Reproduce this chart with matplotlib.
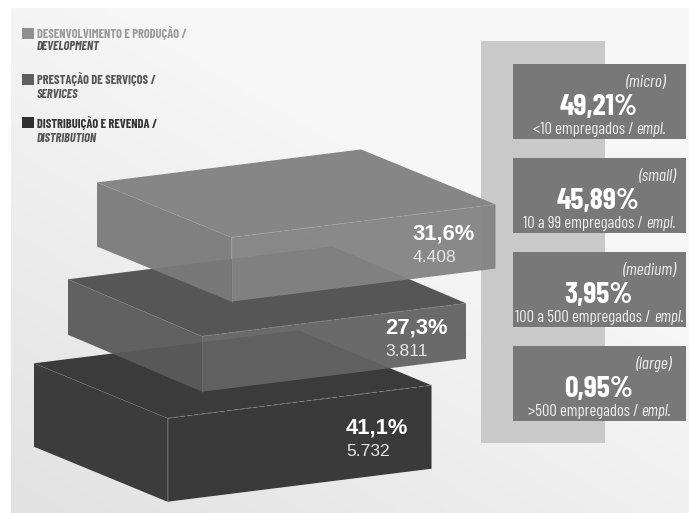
import numpy as np
import matplotlib
matplotlib.use("Agg")
import matplotlib.pyplot as plt
from matplotlib.patches import Polygon, Rectangle
from matplotlib.colors import LinearSegmentedColormap

# Sector shares of companies and the number of companies behind them
sector_names = ["DESENVOLVIMENTO E PRODUÇÃO /", "PRESTAÇÃO DE SERVIÇOS /", "DISTRIBUIÇÃO E REVENDA /"]
sector_names_en = ["DEVELOPMENT", "SERVICES", "DISTRIBUTION"]
sector_shares = [31.6, 27.3, 41.1]
sector_counts = [4408, 3811, 5732]

# Company size breakdown
size_names = ["(micro)", "(small)", "(medium)", "(large)"]
size_shares = [49.21, 45.89, 3.95, 0.95]
size_ranges = ["<10 empregados / ", "10 a 99 empregados / ", "100 a 500 empregados / ", ">500 empregados / "]

W, H = 689, 513
NARROW = ["Barlow Condensed", "DejaVu Sans"]
SANS = ["Liberation Sans", "DejaVu Sans"]

fig = plt.figure(figsize=(W / 100, H / 100), dpi=100, facecolor="white")
ax = fig.add_axes([0, 0, 1, 1])
ax.axis("off")

# Page background: pale grey, a little darker towards the lower left
shade = LinearSegmentedColormap.from_list("page", ["#e2e2e2", "#f6f6f6"])
gx, gy = np.meshgrid(np.linspace(0, 1, 64), np.linspace(0, 1, 64))
ax.imshow(np.clip(gx * 0.7 + (1 - gy) * 0.9, 0, 1), cmap=shade, vmin=0, vmax=1,
          extent=(11, W, 513, 8), aspect="auto", zorder=0, interpolation="bilinear")
ax.set_xlim(0, W)
ax.set_ylim(H, 0)

# Tall panel behind the size boxes
ax.add_patch(Rectangle((481, 41), 124, 402, fc="#c9c9c9", ec="none", zorder=1))

# Stacked slabs: the height of each slab follows its share
px_per_point = 2.03
slab_front_x = [231.5, 202, 167.5]
slab_front_mid = [269.5, 364, 460]
slab_left = [(-134.5, -55), (-134, -57), (-133.5, -55)]
slab_right = (264, -33)
slab_colours = [("#868686", "#7a7a7a", "#838383"),
                ("#565656", "#5a5a5a", "#636363"),
                ("#3b3b3b", "#3c3c3c", "#3a3a3a")]
slab_share_pos = [(413, 234), (385, 328), (346, 428)]
slab_count_y = [258, 352, 451]
slab_alpha = [0.95, 0.95, 1.0]


def draw_slab(i, z):
    h = sector_shares[i] * px_per_point
    fx, fy = slab_front_x[i], slab_front_mid[i] - h / 2
    lx, ly = fx + slab_left[i][0], fy + slab_left[i][1]
    rx, ry = fx + slab_right[0], fy + slab_right[1]
    bx, by = lx + slab_right[0], ly + slab_right[1]
    top, left, right = slab_colours[i]
    a = slab_alpha[i]
    ax.add_patch(Polygon([(lx, ly), (fx, fy), (fx, fy + h), (lx, ly + h)], fc=left, ec="none", alpha=a, zorder=z))
    ax.add_patch(Polygon([(fx, fy), (rx, ry), (rx, ry + h), (fx, fy + h)], fc=right, ec="none", alpha=a, zorder=z))
    ax.add_patch(Polygon([(lx, ly), (bx, by), (rx, ry), (fx, fy)], fc=top, ec="none", zorder=z + 0.05))
    # thin construction lines along the near edges
    edge = "#a0a0a0" if i == 0 else "#888888"
    ax.plot([fx, rx], [fy, ry], color=edge, lw=0.6, ls=(0, (5, 3)), zorder=z + 0.1)
    ax.plot([lx, fx], [ly, fy], color=edge, lw=0.4, alpha=0.5, zorder=z + 0.1)
    ax.plot([fx, fx], [fy, fy + h], color=edge, lw=0.4, alpha=0.5, zorder=z + 0.1)
    tx, ty = slab_share_pos[i]
    ax.text(tx, ty, f"{sector_shares[i]:.1f}%".replace(".", ","), family=SANS, weight="bold",
            fontsize=15.8, color="white", ha="left", va="center", zorder=z + 1)
    ax.text(tx, slab_count_y[i], f"{sector_counts[i]:,}".replace(",", "."), family=SANS,
            fontsize=12.6, color="#e6e6e6", ha="left", va="center", zorder=z + 1)


for z, i in zip((2, 3, 4), (2, 1, 0)):
    draw_slab(i, z)

# Size boxes
box_tops = [64, 158, 252, 346]
name_right = [666, 677, 677, 672]
renderer = fig.canvas.get_renderer()
for top, name, share, rng, nr in zip(box_tops, size_names, size_shares, size_ranges, name_right):
    ax.add_patch(Rectangle((513, top), 173, 75, fc="#787878", ec="none", zorder=6))
    ax.text(nr, top + 18.5, name, family=NARROW, style="italic", fontsize=12.5,
            color="#efefef", ha="right", va="center", zorder=7)
    ax.text(598.5, top + 44, f"{share:.2f}%".replace(".", ","), family=NARROW, weight="bold",
            fontsize=21.5, color="white", ha="center", va="center", zorder=7)
    label = ax.text(0, top + 65.5, rng.rstrip(), family=NARROW, fontsize=11.9, color="#f0f0f0",
                    va="center", zorder=7)
    tail = ax.text(0, top + 65.5, "empl.", family=NARROW, style="italic", fontsize=11.9,
                   color="#f0f0f0", va="center", zorder=7)
    gap = 3
    w1 = label.get_window_extent(renderer).width
    w2 = tail.get_window_extent(renderer).width
    x0 = 599.5 - (w1 + gap + w2) / 2
    label.set_x(x0)
    tail.set_x(x0 + w1 + gap)

# Legend
legend_tops = [28, 74, 117]
legend_colours = ["#8f8f8f", "#5f5f5f", "#303030"]
legend_y2 = [47, 94, 138]
legend_text = ["#9a9a9a", "#555555", "#333333"]
for t, c, y2, tc, pt, en in zip(legend_tops, legend_colours, legend_y2, legend_text, sector_names, sector_names_en):
    ax.add_patch(Rectangle((22, t), 12, 11, fc=c, ec="none", zorder=2))
    ax.text(37, t + 5.5, pt, family=NARROW, weight="bold", fontsize=9, color=tc, va="center", zorder=2)
    ax.text(37, y2, en, family=NARROW, weight="bold", style="italic", fontsize=9, color="#555555",
            va="center", zorder=2)

fig.savefig("out.png", dpi=100)
